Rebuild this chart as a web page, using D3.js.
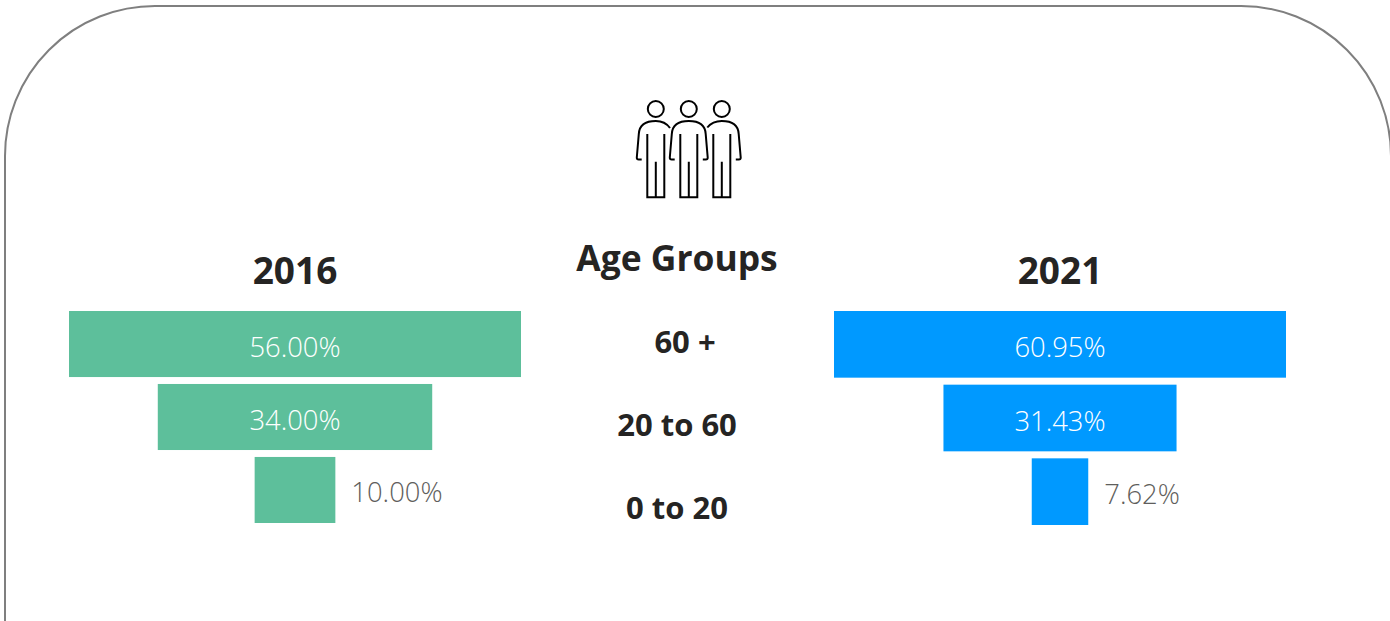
<!DOCTYPE html>
<html>
<head>
<meta charset="utf-8">
<script src="https://cdnjs.cloudflare.com/ajax/libs/d3/7.8.5/d3.min.js"></script>
<style>
  html, body { margin: 0; padding: 0; background: #fff; overflow: hidden; }
  text { font-family: "Open Sans", "Noto Sans", sans-serif; }
  .head { font-weight: 700; fill: #252423; text-anchor: middle; }
  .value { font-size: 27.4px; }
</style>
</head>
<body>
<div id="chart"></div>
<script>
var ageGroups = ['60 +', '20 to 60', '0 to 20'];
var values2016 = [56.00, 34.00, 10.00];
var values2021 = [60.95, 31.43, 7.62];

var svg = d3.select('#chart').append('svg')
  .attr('width', 1390)
  .attr('height', 621);

// card outline, runs off the bottom of the picture
svg.append('rect')
  .attr('x', 5).attr('y', 6)
  .attr('width', 1386).attr('height', 800)
  .attr('rx', 150).attr('ry', 150)
  .attr('fill', 'none')
  .attr('stroke', '#7f7f7f')
  .attr('stroke-width', 2);

drawIcon();

svg.append('text').attr('class', 'head')
  .attr('x', 677).attr('y', 271)
  .style('font-size', '35.4px')
  .text('Age Groups');

drawFunnel({ title: '2016', values: values2016, color: '#5dbf9b', left: 69, right: 521, top: 311, bottom: 523 });
drawFunnel({ title: '2021', values: values2021, color: '#0099ff', left: 834, right: 1286, top: 311, bottom: 525 });

// middle column of category names
var groupX = { '60 +': 685, '20 to 60': 677, '0 to 20': 677 };
var groupY = d3.scalePoint().domain(ageGroups).range([342, 508]);

svg.selectAll('text.group').data(ageGroups)
  .enter().append('text')
  .attr('class', 'group head')
  .attr('x', function(d) { return groupX[d]; })
  .attr('y', function(d) { return groupY(d) + 11; })
  .style('font-size', '31px')
  .text(function(d) { return d; });

// functions:

function drawFunnel(opts) {
  var center = (opts.left + opts.right) / 2;
  var maxValue = d3.max(opts.values);
  var w = d3.scaleLinear().domain([0, maxValue]).range([0, opts.right - opts.left]);
  var y = d3.scaleBand().domain(ageGroups).range([opts.top, opts.bottom]).paddingInner(0.095);

  var rows = opts.values.map(function(v, i) { return { group: ageGroups[i], value: v }; });
  var g = svg.append('g');

  g.append('text').attr('class', 'head')
    .attr('x', center).attr('y', 284)
    .style('font-size', '37px')
    .text(opts.title);

  g.selectAll('rect').data(rows)
    .enter().append('rect')
    .attr('x', function(d) { return center - w(d.value) / 2; })
    .attr('y', function(d) { return y(d.group); })
    .attr('width', function(d) { return w(d.value); })
    .attr('height', y.bandwidth())
    .attr('fill', opts.color);

  // labels go outside when the bar is too small to hold them
  g.selectAll('text.value').data(rows)
    .enter().append('text')
    .attr('class', 'value')
    .attr('x', function(d) {
      return w(d.value) > 100 ? center : center + w(d.value) / 2 + 16;
    })
    .attr('y', function(d) { return y(d.group) + y.bandwidth() / 2 + 12.5; })
    .attr('text-anchor', function(d) { return w(d.value) > 100 ? 'middle' : 'start'; })
    .attr('fill', function(d) { return w(d.value) > 100 ? '#fff' : '#605e5c'; })
    .style('font-weight', 300)
    .text(function(d) { return d.value.toFixed(2) + '%'; });
}

function drawIcon() {
  var body = 'M647.3 134V197.3H664.3V134M655.8 161.7V197.3';
  var leftArm = 'M641.7 159.5H638.7Q636.7 159.5 636.8 157.5L638.8 134Q639.5 121 655.8 121';
  var rightArm = 'M655.8 121Q672 121 672.7 134L674.7 157.5Q674.8 159.5 672.8 159.5H669.8';
  var people = [
    { dx: 0, d: body + leftArm + 'M655.8 121Q665 121 670 128' },
    { dx: 33, d: body + leftArm + rightArm },
    { dx: 66, d: body + 'M641.3 127.5Q646.5 121 655.8 121' + rightArm }
  ];
  var icon = svg.append('g')
    .attr('fill', 'none')
    .attr('stroke', '#000')
    .attr('stroke-width', 2);
  var person = icon.selectAll('g').data(people)
    .enter().append('g')
    .attr('transform', function(d) { return 'translate(' + d.dx + ',0)'; });
  person.append('circle').attr('cx', 655.8).attr('cy', 109).attr('r', 8);
  person.append('path').attr('d', function(d) { return d.d; });
}
</script>
</body>
</html>
